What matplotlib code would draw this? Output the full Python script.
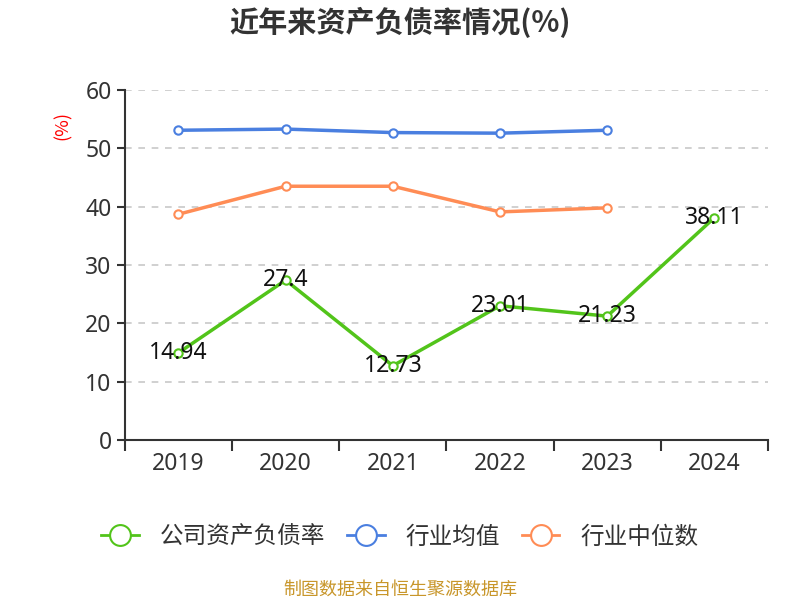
import matplotlib
matplotlib.use("Agg")
import matplotlib.pyplot as plt
from matplotlib.lines import Line2D

plt.rcParams['font.family'] = ['Noto Sans CJK SC', 'DejaVu Sans']
num_font = ['Noto Sans', 'Noto Sans CJK SC']

years = ["2019", "2020", "2021", "2022", "2023", "2024"]
company = [14.94, 27.4, 12.73, 23.01, 21.23, 38.11]
industry_avg = [53.1, 53.3, 52.7, 52.6, 53.1]
industry_median = [38.7, 43.5, 43.5, 39.1, 39.8]

green = "#52c41a"
blue = "#4a7fe0"
orange = "#ff8c55"

fig = plt.figure(figsize=(8, 6), dpi=100)
ax = fig.add_axes([0.156, 0.2667, 0.804, 0.5833])

x = list(range(len(years)))
ax.plot(x[:5], industry_avg, color=blue, lw=2.5, marker='o', ms=6,
        mfc='white', mec=blue, mew=1.5, zorder=3)
ax.plot(x[:5], industry_median, color=orange, lw=2.5, marker='o', ms=6,
        mfc='white', mec=orange, mew=1.5, zorder=3)
ax.plot(x, company, color=green, lw=2.5, marker='o', ms=6,
        mfc='white', mec=green, mew=1.5, zorder=4)

for xi, v in zip(x, company):
    ax.text(xi, v, f"{v:g}", ha='center', va='center', fontsize=16.5,
            color='#111111', zorder=5, family=num_font)

ax.set_xlim(-0.5, 5.5)
ax.set_ylim(0, 60)
ax.set_yticks(range(0, 61, 10))
ax.tick_params(axis='y', labelsize=16.5, colors='#333333', length=6, width=1.5)
for lbl in ax.get_yticklabels():
    lbl.set_family(num_font)
ax.grid(axis='y', linestyle=(0, (4, 4)), color='#c8c8c8', lw=1.2)
ax.set_axisbelow(True)

ax.set_xticks([i - 0.5 for i in range(len(years) + 1)])
ax.set_xticklabels([])
ax.set_xticks(x, minor=True)
ax.set_xticklabels(years, minor=True, family=num_font)
ax.tick_params(axis='x', which='major', length=8, width=1.5, colors='#333333')
ax.tick_params(axis='x', which='minor', length=0, labelsize=16.5,
               labelcolor='#333333', pad=9)

for s in ['top', 'right']:
    ax.spines[s].set_visible(False)
for s in ['left', 'bottom']:
    ax.spines[s].set_color('#333333')
    ax.spines[s].set_linewidth(1.5)

fig.text(0.078, 0.79, "(%)", rotation=90, color='red', fontsize=13,
         ha='center', va='center')

fig.text(0.5, 0.962, "近年来资产负债率情况(%)", ha='center', va='center',
         fontsize=21, fontweight='bold', color='#333333')

handles = [
    Line2D([], [], color=green, lw=2, marker='o', ms=15, mfc='white', mec=green, mew=1.5),
    Line2D([], [], color=blue, lw=2, marker='o', ms=15, mfc='white', mec=blue, mew=1.5),
    Line2D([], [], color=orange, lw=2, marker='o', ms=15, mfc='white', mec=orange, mew=1.5),
]
fig.legend(handles, ["公司资产负债率", "行业均值", "行业中位数"],
           loc='center', bbox_to_anchor=(0.5, 0.105), ncol=3, frameon=False,
           fontsize=17, handlelength=1.6, handletextpad=0.9, columnspacing=0.9,
           labelcolor='#333333')

fig.text(0.5, 0.017, "制图数据来自恒生聚源数据库", ha='center', va='center',
         fontsize=13, color='#c8962a')

fig.savefig("out.png", dpi=100)
